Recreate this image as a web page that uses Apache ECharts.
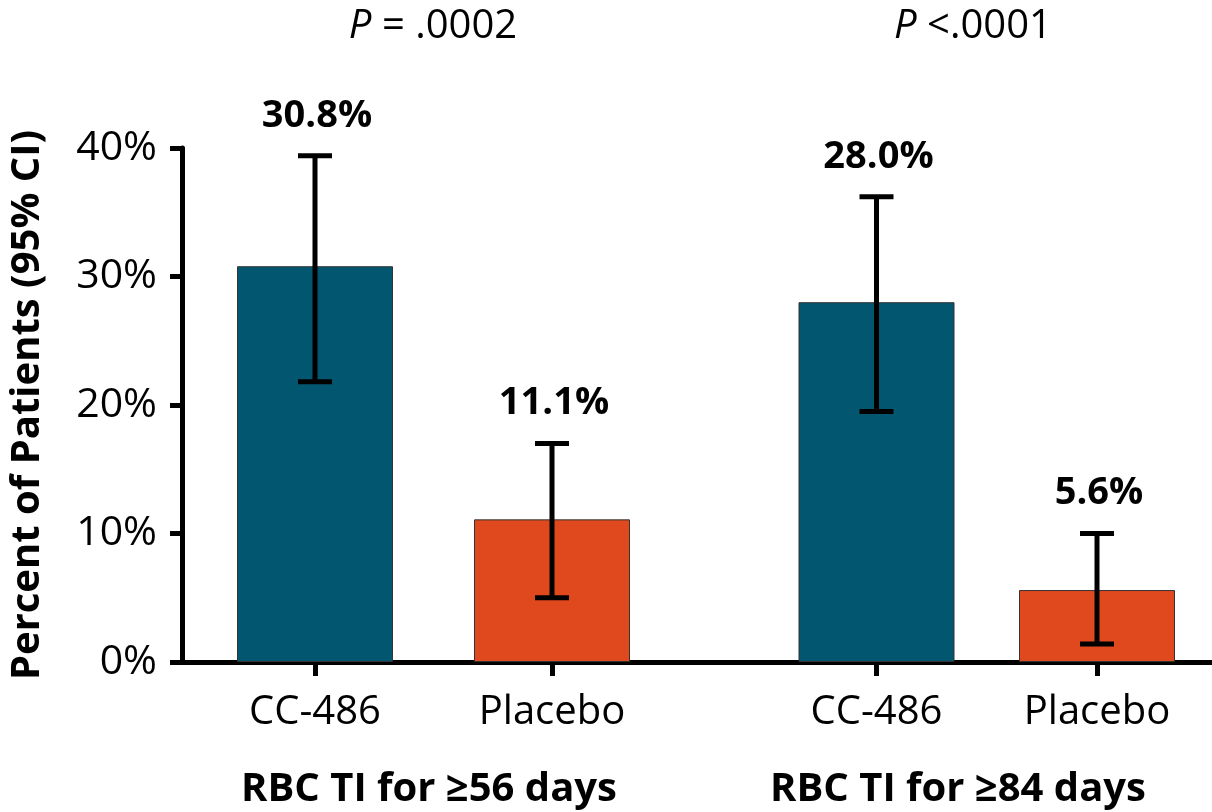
<!DOCTYPE html>
<html>
<head>
<meta charset="utf-8">
<script src="https://cdn.jsdelivr.net/npm/echarts@6/dist/echarts.min.js"></script>
<style>
  html, body { margin: 0; padding: 0; background: #fff; }
  #chart { width: 1212px; height: 812px; }
</style>
</head>
<body>
<div id="chart"></div>
<script>
// Treatment arms within each transfusion-independence window
const categories = ['CC-486', 'Placebo'];
const groupNames = ['RBC TI for \u226556 days', 'RBC TI for \u226584 days'];
const pValueText = [' = .0002', ' <.0001'];

// Response rates (%) and 95% confidence limits, one entry per window
const cc486Rate = [30.8, 28.0];
const placeboRate = [11.1, 5.6];
const cc486Low = [21.8, 19.5];
const cc486High = [39.4, 36.2];
const placeboLow = [5.0, 1.4];
const placeboHigh = [17.0, 10.0];

// Y axis range
const yMin = 0, yMax = 40, yStep = 10;

const TEAL = '#03566F';
const ORANGE = '#E0491E';
const FONT = "'Open Sans', 'Noto Sans', sans-serif";

const chart = echarts.init(document.getElementById('chart'), null, { renderer: 'canvas' });

const gridTop = 148, gridBottom = 150;

function barData(g) {
  return [
    { value: cc486Rate[g], itemStyle: { color: TEAL } },
    { value: placeboRate[g], itemStyle: { color: ORANGE } }
  ];
}

function errData(g) {
  return [
    [0, cc486Low[g], cc486High[g], cc486Rate[g]],
    [1, placeboLow[g], placeboHigh[g], placeboRate[g]]
  ];
}

// Whisker + cap drawing, with the rate label above the upper cap
function renderError(params, api) {
  const idx = api.value(0);
  const lo = api.coord([idx, api.value(1)]);
  const hi = api.coord([idx, api.value(2)]);
  const capHalf = 17;
  const st = { stroke: '#000', lineWidth: 5 };
  return {
    type: 'group',
    children: [
      { type: 'line', shape: { x1: lo[0], y1: lo[1], x2: hi[0], y2: hi[1] }, style: st },
      { type: 'line', shape: { x1: hi[0] - capHalf, y1: hi[1], x2: hi[0] + capHalf, y2: hi[1] }, style: st },
      { type: 'line', shape: { x1: lo[0] - capHalf, y1: lo[1], x2: lo[0] + capHalf, y2: lo[1] }, style: st },
      {
        type: 'text',
        style: {
          text: api.value(3).toFixed(1) + '%',
          x: hi[0] + 2,
          y: hi[1] - 40,
          align: 'center',
          verticalAlign: 'middle',
          font: 'bold 38px ' + FONT,
          fill: '#000'
        }
      }
    ]
  };
}

const hiddenY = (gi) => ({
  type: 'value', gridIndex: gi, min: yMin, max: yMax, interval: yStep, show: false
});

const catX = (gi) => ({
  type: 'category',
  gridIndex: gi,
  data: categories,
  axisLine: { show: false },
  axisTick: { show: true, alignWithLabel: true, length: 14, lineStyle: { color: '#000', width: 5 } },
  axisLabel: { color: '#000', fontFamily: FONT, fontSize: 40, margin: 27, lineHeight: 48 },
  splitLine: { show: false }
});

const option = {
  backgroundColor: '#ffffff',
  animation: false,
  grid: [
    { left: 173, right: 0, top: gridTop, bottom: gridBottom },
    { left: 196.5, right: 541.5, top: gridTop, bottom: gridBottom },
    { left: 766.25, right: 4.75, top: gridTop, bottom: gridBottom }
  ],
  xAxis: [
    {
      type: 'value', gridIndex: 0, min: 0, max: 1,
      axisLine: { show: true, lineStyle: { color: '#000', width: 5 } },
      axisTick: { show: false }, axisLabel: { show: false }, splitLine: { show: false }
    },
    catX(1),
    catX(2)
  ],
  yAxis: [
    {
      type: 'value', gridIndex: 0, min: yMin, max: yMax, interval: yStep,
      name: 'Percent of Patients (95% CI)',
      nameLocation: 'middle',
      nameGap: 134,
      nameTextStyle: { color: '#000', fontFamily: FONT, fontSize: 40, fontWeight: 'bold' },
      axisLine: { show: true, lineStyle: { color: '#000', width: 5 } },
      axisTick: { show: true, inside: false, length: 12, lineStyle: { color: '#000', width: 5 } },
      axisLabel: { color: '#000', fontFamily: FONT, fontSize: 41, margin: 25, formatter: '{value}%' },
      splitLine: { show: false }
    },
    hiddenY(1),
    hiddenY(2)
  ],
  series: [
    {
      type: 'bar', xAxisIndex: 1, yAxisIndex: 1, barWidth: 156, data: barData(0),
      itemStyle: { borderColor: '#333', borderWidth: 1 }, z: 2
    },
    {
      type: 'bar', xAxisIndex: 2, yAxisIndex: 2, barWidth: 156, data: barData(1),
      itemStyle: { borderColor: '#333', borderWidth: 1 }, z: 2
    },
    { type: 'custom', xAxisIndex: 1, yAxisIndex: 1, data: errData(0), renderItem: renderError, z: 5 },
    { type: 'custom', xAxisIndex: 2, yAxisIndex: 2, data: errData(1), renderItem: renderError, z: 5 }
  ],
  graphic: [
    {
      type: 'text', x: 433, y: 27,
      style: {
        text: '{i|P}' + pValueText[0], align: 'center', verticalAlign: 'middle',
        font: '40px ' + FONT, fill: '#000',
        rich: { i: { fontStyle: 'italic', fontSize: 40, fontFamily: FONT, fill: '#000' } }
      }
    },
    {
      type: 'text', x: 973, y: 27,
      style: {
        text: '{i|P}' + pValueText[1], align: 'center', verticalAlign: 'middle',
        font: '40px ' + FONT, fill: '#000',
        rich: { i: { fontStyle: 'italic', fontSize: 40, fontFamily: FONT, fill: '#000' } }
      }
    },
    {
      type: 'text', x: 429, y: 790,
      style: { text: groupNames[0], align: 'center', verticalAlign: 'middle', font: 'bold 40px ' + FONT, fill: '#000' }
    },
    {
      type: 'text', x: 958, y: 790,
      style: { text: groupNames[1], align: 'center', verticalAlign: 'middle', font: 'bold 40px ' + FONT, fill: '#000' }
    }
  ]
};

chart.setOption(option);
</script>
</body>
</html>
